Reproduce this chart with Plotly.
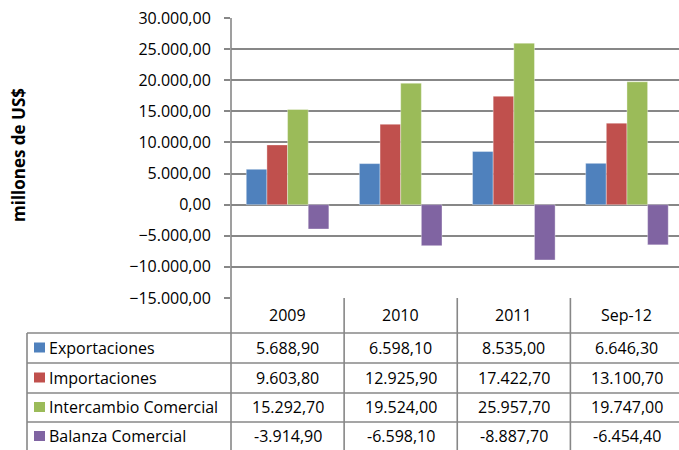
import plotly.graph_objects as go

categories = ["2009", "2010", "2011", "Sep-12"]
series_names = ["Exportaciones", "Importaciones", "Intercambio Comercial", "Balanza Comercial"]
exportaciones = [5688.90, 6598.10, 8535.00, 6646.30]
importaciones = [9603.80, 12925.90, 17422.70, 13100.70]
intercambio = [15292.70, 19524.00, 25957.70, 19747.00]
balanza = [-3914.90, -6598.10, -8887.70, -6454.40]
colors = ["#4F81BD", "#C0504D", "#9BBB59", "#8064A2"]
y_title = "millones de US$"

values = [exportaciones, importaciones, intercambio, balanza]

W, H = 679, 450
L, T, B = 231, 18, 152
PW, PH = W - L, H - T - B
GRID = "#878787"
FONT = "Open Sans"
FS = 16


def fmt(v):
    s = f"{abs(v):,.2f}".replace(",", "X").replace(".", ",").replace("X", ".")
    return ("-" if v < 0 else "") + s


def px(p):
    return (p - L) / PW


def py(p):
    return (T + PH - p) / PH


fig = go.Figure()
for name, vals, col in zip(series_names, values, colors):
    fig.add_trace(go.Bar(x=categories, y=vals, name=name, marker_color=col,
                         marker_line_width=0.6, marker_line_color="rgba(255,255,255,0.6)"))

shapes = []
bottom = py(H + 5)
shapes.append(dict(type="line", xref="paper", yref="paper", x0=0, x1=0, y0=1, y1=bottom,
                   line=dict(color=GRID, width=1.6)))
for i in range(len(categories)):
    shapes.append(dict(type="line", xref="x", yref="paper", x0=i + 0.5, x1=i + 0.5, y0=0, y1=bottom,
                       line=dict(color=GRID, width=1.6)))
row_lines = [333, 363, 393, 422]
for r in row_lines:
    shapes.append(dict(type="line", xref="paper", yref="paper", x0=px(27), x1=1.02, y0=py(r), y1=py(r),
                       line=dict(color=GRID, width=1.6)))
shapes.append(dict(type="line", xref="paper", yref="paper", x0=px(27), x1=px(27), y0=py(333), y1=bottom,
                   line=dict(color=GRID, width=1.6)))

annotations = []
header_y = 315
row_centers = [347.5, 377.5, 407, 436]
for i, c in enumerate(categories):
    annotations.append(dict(x=i, xref="x", y=py(header_y), yref="paper", text=c, showarrow=False,
                            font=dict(family=FONT, size=FS, color="#000"), xanchor="center", yanchor="middle"))
for name, vals, col, yc in zip(series_names, values, colors, row_centers):
    shapes.append(dict(type="rect", xref="paper", yref="paper", x0=px(34), x1=px(45),
                       y0=py(yc - 5), y1=py(yc + 5), fillcolor=col, line=dict(width=0)))
    annotations.append(dict(x=px(47), xref="paper", y=py(yc), yref="paper", text=name, showarrow=False,
                            font=dict(family=FONT, size=FS, color="#000"), xanchor="left", yanchor="middle"))
    for i, v in enumerate(vals):
        annotations.append(dict(x=i, xref="x", y=py(yc), yref="paper", text=fmt(v), showarrow=False,
                                font=dict(family=FONT, size=FS, color="#000"), xanchor="center", yanchor="middle"))

annotations.append(dict(x=px(18), xref="paper", y=py(155), yref="paper", text="<b>" + y_title + "</b>",
                        showarrow=False, textangle=-90, font=dict(family=FONT, size=17, color="#000"),
                        xanchor="center", yanchor="middle"))

fig.update_layout(
    width=W, height=H,
    margin=dict(l=L, r=0, t=T, b=B, pad=0),
    paper_bgcolor="white", plot_bgcolor="white",
    separators=",.",
    barmode="group", bargap=0.27, bargroupgap=0,
    showlegend=False,
    shapes=shapes, annotations=annotations,
    font=dict(family=FONT, size=FS, color="#000"),
)
fig.update_xaxes(type="category", range=[-0.5, 3.46], showticklabels=False, showgrid=False, zeroline=False,
                 showline=False, ticks="", fixedrange=True)
fig.update_yaxes(range=[-15000, 30000], dtick=5000, tickformat=",.2f",
                 showgrid=True, gridcolor=GRID, gridwidth=1.6,
                 zeroline=True, zerolinecolor=GRID, zerolinewidth=1.6,
                 showline=False, ticks="outside", ticklen=6, tickcolor=GRID, tickwidth=1.6,
                 ticklabelstandoff=10,
                 tickfont=dict(family=FONT, size=FS, color="#000"))

fig.write_html("out.html", config={"displayModeBar": False},
               post_script="document.body.style.margin='0';")
